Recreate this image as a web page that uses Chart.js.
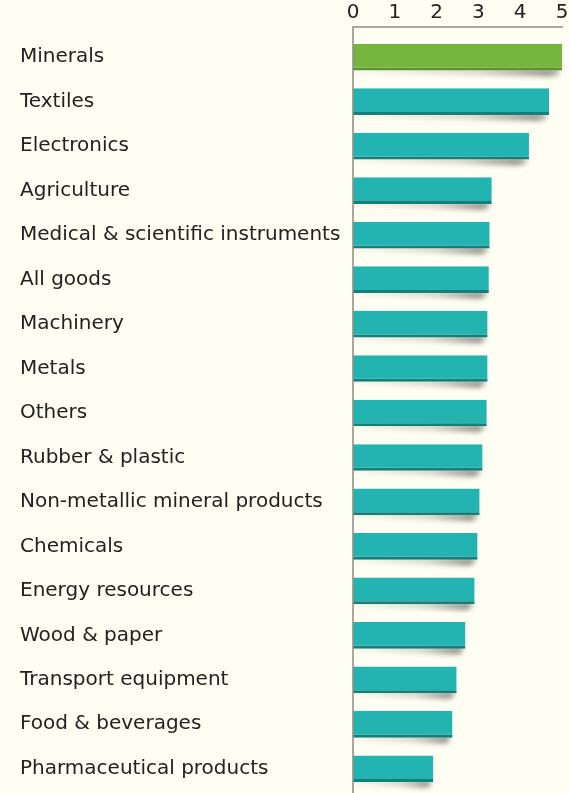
<!DOCTYPE html>
<html>
<head>
<meta charset="utf-8">
<script src="https://cdn.jsdelivr.net/npm/chart.js@4"></script>
<style>
  html, body { margin: 0; padding: 0; background: #fefef2; }
  #wrap { width: 570px; height: 793px; position: relative; }
</style>
</head>
<body>
<div id="wrap"><canvas id="sector-chart"></canvas></div>
<script>
// ===============================
// DATA
// ===============================

const sectors = [
  "Minerals", "Textiles", "Electronics", "Agriculture",
  "Medical & scientific instruments", "All goods", "Machinery", "Metals",
  "Others", "Rubber & plastic", "Non-metallic mineral products", "Chemicals",
  "Energy resources", "Wood & paper", "Transport equipment",
  "Food & beverages", "Pharmaceutical products"
];

const values = [
  5.0, 4.69, 4.21, 3.32,
  3.27, 3.25, 3.22, 3.22,
  3.20, 3.10, 3.03, 2.98,
  2.91, 2.69, 2.48,
  2.38, 1.92
];

const xTicks = [0, 1, 2, 3, 4, 5];

const highlight = "Minerals";

// ===============================
// STYLE
// ===============================

const teal = "#23b3b1";
const tealDark = "#13807c";
const green = "#76b63e";
const greenDark = "#56962a";
const fontFamily = "'DejaVu Sans', sans-serif";

// curled-paper shadow under each bar, heavier towards the bar end
const barShadow = {
  id: "barShadow",
  beforeDatasetsDraw(chart) {
    const ctx = chart.ctx;
    const meta = chart.getDatasetMeta(0);
    ctx.save();
    ctx.filter = "blur(2.5px)";
    meta.data.forEach(bar => {
      const { x, y, base, height } = bar.getProps(["x", "y", "base", "height"], true);
      const bottom = y + height / 2;
      const len = x - base;
      const grad = ctx.createLinearGradient(base, 0, x, 0);
      grad.addColorStop(0, "rgba(0,0,0,0.04)");
      grad.addColorStop(0.6, "rgba(0,0,0,0.16)");
      grad.addColorStop(0.93, "rgba(0,0,0,0.4)");
      grad.addColorStop(1, "rgba(0,0,0,0.2)");
      ctx.fillStyle = grad;
      ctx.beginPath();
      ctx.moveTo(base, bottom - 2);
      ctx.lineTo(x - 2, bottom - 2);
      ctx.quadraticCurveTo(x - 1, bottom + 6, x - 10, bottom + 6);
      ctx.quadraticCurveTo(base + len * 0.5, bottom + 4, base, bottom + 2);
      ctx.closePath();
      ctx.fill();
    });
    ctx.restore();
  }
};

// axis frame: top line sits a little above the plot area
const axisFrame = {
  id: "axisFrame",
  afterDraw(chart) {
    const { ctx, chartArea } = chart;
    const top = chartArea.top - 8;
    ctx.save();
    ctx.strokeStyle = "#8c8c84";
    ctx.lineWidth = 1.5;
    ctx.beginPath();
    ctx.moveTo(chartArea.right + 1, top);
    ctx.lineTo(chartArea.left, top);
    ctx.lineTo(chartArea.left, chart.height);
    ctx.stroke();
    ctx.restore();
  }
};

new Chart(document.getElementById("sector-chart"), {
  type: "bar",
  data: {
    labels: sectors,
    datasets: [{
      data: values,
      backgroundColor: sectors.map(s => s === highlight ? green : teal),
      borderColor: sectors.map(s => s === highlight ? greenDark : tealDark),
      borderWidth: { top: 0, right: 0, bottom: 3, left: 0 },
      borderSkipped: false,
      categoryPercentage: 0.6,
      barPercentage: 1
    }]
  },
  options: {
    indexAxis: "y",
    responsive: true,
    maintainAspectRatio: false,
    animation: false,
    layout: { padding: { left: 20, right: 8, top: 0, bottom: 2 } },
    plugins: {
      legend: { display: false },
      tooltip: { enabled: false }
    },
    scales: {
      x: {
        position: "top",
        min: 0,
        max: 5,
        afterBuildTicks: scale => { scale.ticks = xTicks.map(v => ({ value: v })); },
        afterFit: scale => {
          scale.height = 35;
          scale.paddingLeft = 0;
          scale.paddingRight = 0;
        },
        grid: { display: false },
        border: { display: false },
        ticks: {
          color: "#222",
          padding: 2,
          maxRotation: 0,
          font: { family: fontFamily, size: 20 }
        }
      },
      y: {
        grid: { display: false },
        border: { display: false },
        afterFit: scale => {
          scale.width = 333;
          scale.paddingTop = 0;
          scale.paddingBottom = 0;
        },
        ticks: {
          color: "#222",
          crossAlign: "far",
          padding: 8,
          font: { family: fontFamily, size: 20 }
        }
      }
    }
  },
  plugins: [barShadow, axisFrame]
});
</script>
</body>
</html>
